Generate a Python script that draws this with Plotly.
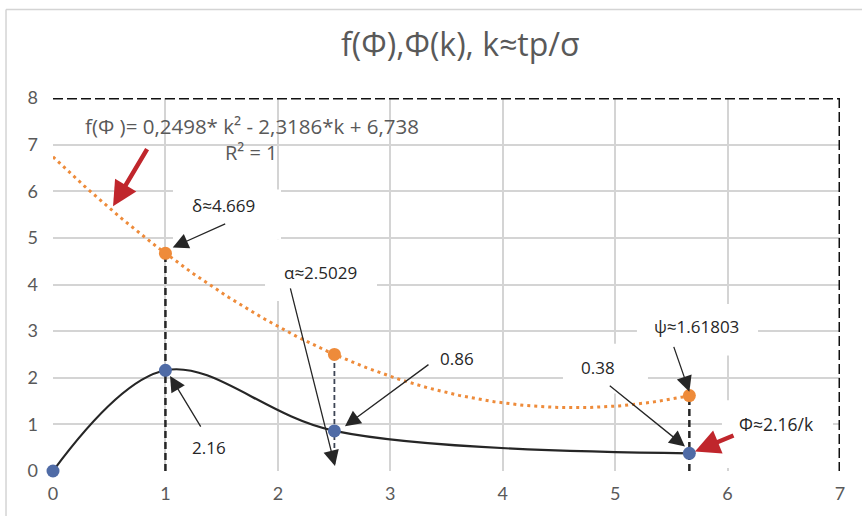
import numpy as np
import plotly.graph_objects as go

# Φ(k) points (black smoothed curve, blue markers)
K_POINTS = [0, 1, 2.5029, 5.66]
PHI_VALUES = [0, 2.16, 0.86, 0.38]

# f(Φ) points (orange markers)
F_K = [1, 2.5029, 5.66]
F_VALUES = [4.669, 2.5, 1.61803]

# quadratic trendline coefficients, as printed in the equation label
TREND_COEFFS = [0.2498, -2.3186, 6.738]
TREND_END = 5.66

X_TICKS = [0, 1, 2, 3, 4, 5, 6, 7]
Y_TICKS = [0, 1, 2, 3, 4, 5, 6, 7, 8]

FONT = "Open Sans"
TICK_FONT = "Lato"
GRAY_TEXT = "#595959"
GRID = "#d4d4d4"
BLUE = "#4F6BA6"
ORANGE = "#EE8B3A"
RED = "#C0262C"
INK = "#262626"

fig = go.Figure()

# quadratic trendline f(Φ) = a k² + b k + c
k_fit = np.linspace(0, TREND_END, 200)
fig.add_trace(go.Scatter(
    x=k_fit, y=np.polyval(TREND_COEFFS, k_fit), mode="lines",
    line=dict(color=ORANGE, width=3, dash="3px,4px"),
    hoverinfo="skip", cliponaxis=False))

# vertical dashed guides
fig.add_trace(go.Scatter(
    x=[K_POINTS[1], K_POINTS[1]], y=[0, F_VALUES[0]], mode="lines",
    line=dict(color=INK, width=2.5, dash="7px,4px"), hoverinfo="skip"))
fig.add_trace(go.Scatter(
    x=[K_POINTS[3], K_POINTS[3]], y=[0, F_VALUES[2]], mode="lines",
    line=dict(color=INK, width=2.5, dash="7px,4px"), hoverinfo="skip"))
fig.add_trace(go.Scatter(
    x=[K_POINTS[2], K_POINTS[2]], y=[0.15, F_VALUES[1]], mode="lines",
    line=dict(color="#3d4555", width=1.8, dash="5px,3px"), hoverinfo="skip"))

# Φ(k) smoothed curve
fig.add_trace(go.Scatter(
    x=K_POINTS, y=PHI_VALUES, mode="lines",
    line=dict(color=INK, width=2.2, shape="spline", smoothing=1.0),
    hoverinfo="skip", cliponaxis=False))

# markers
fig.add_trace(go.Scatter(
    x=F_K, y=F_VALUES, mode="markers",
    marker=dict(color=ORANGE, size=13), cliponaxis=False))
fig.add_trace(go.Scatter(
    x=K_POINTS, y=PHI_VALUES, mode="markers",
    marker=dict(color=BLUE, size=13), cliponaxis=False))

# white label backgrounds sitting between gridlines and traces
boxes = [
    (1.067, 2.028, 4.971, 6.037),
    (1.886, 2.882, 3.648, 4.971),
    (4.536, 5.292, 1.664, 2.731),
    (5.194, 6.271, 2.475, 3.584),
    (5.950, 6.938, 0.064, 1.515),
]
shapes = []
for x0, x1, y0, y1 in boxes:
    shapes.append(dict(type="rect", xref="x", yref="y", x0=x0, x1=x1, y0=y0, y1=y1,
                       fillcolor="white", line=dict(width=0), layer="between"))

# dashed frame on top and right
shapes.append(dict(type="line", xref="x", yref="y", x0=0, x1=7, y0=8, y1=8,
                   line=dict(color="#111111", width=3, dash="10px,4px"), layer="above"))
shapes.append(dict(type="line", xref="x", yref="y", x0=7, x1=7, y0=8, y1=0,
                   line=dict(color="#111111", width=3, dash="10px,4px"), layer="above"))

# outer chart border (top and left edges)
shapes.append(dict(type="line", xref="paper", yref="paper", x0=-0.0597, x1=1.1, y0=1.237, y1=1.237,
                   line=dict(color=GRID, width=1.5)))
shapes.append(dict(type="line", xref="paper", yref="paper", x0=-0.0597, x1=-0.0597, y0=1.237, y1=-0.2,
                   line=dict(color=GRID, width=1.5)))

annotations = []

# text labels
labels = [
    ("f(Φ )= 0,2498* k² - 2,3186*k + 6,738", 1.767, 7.39, GRAY_TEXT, 20.5),
    ("R² = 1", 1.767, 6.835, GRAY_TEXT, 20),
    ("δ≈4.669", 1.52, 5.70, INK, 17),
    ("α≈2.5029", 2.381, 4.25, INK, 17),
    ("0.86", 3.593, 2.41, INK, 17),
    ("0.38", 4.848, 2.22, INK, 17),
    ("ψ≈1.61803", 5.728, 3.09, INK, 17),
    ("Φ≈2.16/k", 6.437, 1.01, INK, 17.5),
    ("2.16", 1.388, 0.51, INK, 17),
]
for text, x, y, color, size in labels:
    annotations.append(dict(text=text, x=x, y=y, xref="x", yref="y", showarrow=False,
                            xanchor="center", yanchor="middle",
                            font=dict(family=FONT, size=size, color=color)))

# black pointer arrows: (tip x, tip y, tail x, tail y)
black_arrows = [
    (1.065, 4.795, 1.545, 5.313),
    (1.041, 2.04, 1.322, 0.918),
    (2.508, 0.107, 2.108, 3.948),
    (2.597, 0.96, 3.353, 2.305),
    (5.621, 0.527, 4.939, 1.857),
    (5.66, 1.70, 5.517, 2.695),
]
for tx, ty, sx, sy in black_arrows:
    annotations.append(dict(text="", x=tx, y=ty, ax=sx, ay=sy, xref="x", yref="y",
                            axref="x", ayref="y", showarrow=True, arrowhead=2,
                            arrowsize=2.4, arrowwidth=1.3, arrowcolor=INK))

# red pointer arrows
red_arrows = [
    (0.534, 5.676, 0.845, 6.935),
    (5.71, 0.42, 6.066, 0.775),
]
for tx, ty, sx, sy in red_arrows:
    annotations.append(dict(text="", x=tx, y=ty, ax=sx, ay=sy, xref="x", yref="y",
                            axref="x", ayref="y", showarrow=True, arrowhead=2,
                            arrowsize=1.1, arrowwidth=4.5, arrowcolor=RED))

fig.update_layout(
    width=862, height=516,
    margin=dict(l=53, r=22, t=98, b=43),
    paper_bgcolor="white", plot_bgcolor="white",
    showlegend=False,
    title=dict(text="f(Φ),Φ(k), k≈tp/σ", x=0.534, xanchor="center", y=0.913, yanchor="middle",
               font=dict(family=FONT, size=32, color=GRAY_TEXT)),
    shapes=shapes,
    annotations=annotations,
    font=dict(family=FONT),
)
fig.update_xaxes(range=[0, 7], tickvals=X_TICKS, ticktext=[str(v) for v in X_TICKS],
                 showgrid=True, gridcolor=GRID, gridwidth=1.8, zeroline=False,
                 showline=False, ticks="", ticklabelstandoff=10,
                 tickfont=dict(family=TICK_FONT, size=18, color=GRAY_TEXT))
fig.update_yaxes(range=[0, 8], tickvals=Y_TICKS, ticktext=[str(v) for v in Y_TICKS],
                 showgrid=True, gridcolor=GRID, gridwidth=1.8, zeroline=False,
                 showline=False, ticks="", ticklabelstandoff=14,
                 tickfont=dict(family=TICK_FONT, size=18, color=GRAY_TEXT))

fig.write_html("out.html")
